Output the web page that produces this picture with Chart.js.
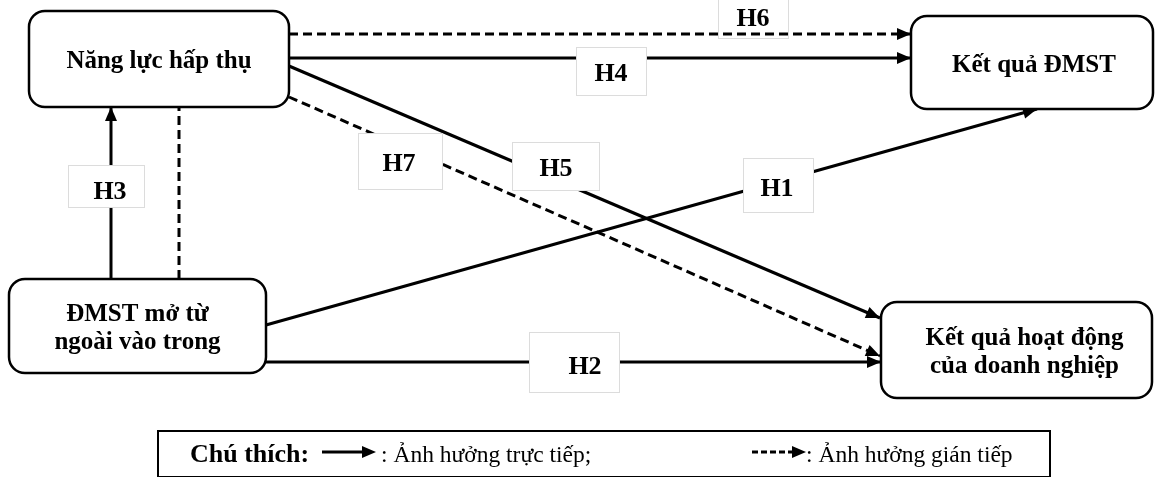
<!DOCTYPE html>
<html><head><meta charset="utf-8">
<script src="https://cdn.jsdelivr.net/npm/chart.js@4.4.1/dist/chart.umd.min.js"></script>
<style>html,body{margin:0;padding:0;background:#fff;}#wrap{width:1156px;height:477px;}</style>
</head><body><div id="wrap"><canvas id="c" width="1156" height="477"></canvas></div>
<script>
// ---------------- data ----------------
const nodeNames = ["Năng lực hấp thụ", "Kết quả ĐMST", "ĐMST mở từ|ngoài vào trong", "Kết quả hoạt động|của doanh nghiệp"];
const hypotheses = ["H1", "H2", "H3", "H4", "H5", "H6", "H7", ""];
const edgeFrom = [2, 2, 2, 0, 0, 0, 0, 2];
const edgeTo = [1, 3, 0, 1, 3, 1, 3, 0];
const effectType = ["direct", "direct", "direct", "direct", "direct", "indirect", "indirect", "indirect"];
const legendTitle = "Chú thích:";
const legendLabels = [": Ảnh hưởng trực tiếp;", ": Ảnh hưởng gián tiếp"];
const legendTypes = ["direct", "indirect"];

// ---------------- layout (diagram plane: 0..1156 x 0..477) ----------------
const layout = {
  nodeBox: [[29, 11, 289, 107], [911, 16, 1153, 109], [9, 279, 266, 373], [881, 302, 1152, 398]],
  nodeTextDx: [0, 2, 0, 8],
  edgeStart: [[266, 325], [266, 362], [111, 279], [289, 58], [289, 66], [289, 34], [289, 97], [179, 279]],
  edgeEnd: [[1037, 109], [881, 362], [111, 107], [911, 58], [880, 318], [911, 34], [880, 356], [179, 107]],
  edgeArrow: [true, true, true, true, true, true, true, false],
  labelBox: [[743, 158, 813, 212], [529, 332, 619, 392], [68, 165, 144, 207], [576, 47, 646, 95], [512, 142, 599, 190], [718, -2, 788, 38], [358, 133, 442, 189], null],
  labelText: [[777, 196], [585, 374], [110, 199], [611, 81], [556, 176], [753, 26], [399, 171], null],
  labelUnder: [false, false, false, false, false, true, false, false],
  legendBox: [158, 431, 1050, 477],
  legendTitlePos: [190, 462],
  legendArrow: [[322, 376, 452], [752, 806, 452]],
  legendTextX: [381, 806],
  legendBaseline: 462
};
const style = {
  lineWidth: 3, dash: [9, 5], head: 14, headHalf: 6,
  nodeFont: "bold 25px 'Liberation Serif', 'Times New Roman', serif",
  labelFont: "bold 26px 'Liberation Serif', 'Times New Roman', serif",
  legendBold: "bold 26px 'Liberation Serif', 'Times New Roman', serif",
  legendReg: "23.5px 'Liberation Serif', 'Times New Roman', serif"
};

const datasets = hypotheses.map((h, i) => ({
  label: h || "link",
  data: [{ x: layout.edgeStart[i][0], y: layout.edgeStart[i][1] }, { x: layout.edgeEnd[i][0], y: layout.edgeEnd[i][1] }],
  showLine: true,
  borderColor: "#000",
  backgroundColor: "#000",
  borderWidth: style.lineWidth,
  borderDash: effectType[i] === "indirect" ? style.dash : [],
  borderCapStyle: "butt",
  pointRadius: 0,
  fill: false,
  clip: false
}));

function rrect(ctx, x0, y0, x1, y1, r) {
  ctx.beginPath();
  ctx.moveTo(x0 + r, y0);
  ctx.arcTo(x1, y0, x1, y1, r);
  ctx.arcTo(x1, y1, x0, y1, r);
  ctx.arcTo(x0, y1, x0, y0, r);
  ctx.arcTo(x0, y0, x1, y0, r);
  ctx.closePath();
}
function arrowHead(ctx, x0, y0, x1, y1) {
  const a = Math.atan2(y1 - y0, x1 - x0);
  ctx.save();
  ctx.translate(x1, y1); ctx.rotate(a);
  ctx.beginPath();
  ctx.moveTo(0, 0);
  ctx.lineTo(-style.head, -style.headHalf);
  ctx.lineTo(-style.head, style.headHalf);
  ctx.closePath();
  ctx.fillStyle = "#000"; ctx.fill();
  ctx.restore();
}

const diagram = {
  id: "diagram",
  beforeDraw(chart) {
    const ctx = chart.ctx;
    ctx.save(); ctx.fillStyle = "#fff"; ctx.fillRect(0, 0, chart.width, chart.height); ctx.restore();
  },
  beforeDatasetsDraw(chart) { drawLabels(chart, true); },
  afterDatasetsDraw(chart) {
    const ctx = chart.ctx, X = v => chart.scales.x.getPixelForValue(v), Y = v => chart.scales.y.getPixelForValue(v);
    hypotheses.forEach((h, i) => {
      if (!layout.edgeArrow[i]) return;
      const s = layout.edgeStart[i], e = layout.edgeEnd[i];
      arrowHead(ctx, X(s[0]), Y(s[1]), X(e[0]), Y(e[1]));
    });
    drawLabels(chart, false);
    nodeNames.forEach((name, i) => {
      const b = layout.nodeBox[i];
      const x0 = X(b[0]), y0 = Y(b[1]), x1 = X(b[2]), y1 = Y(b[3]);
      ctx.save();
      rrect(ctx, x0, y0, x1, y1, 16);
      ctx.fillStyle = "#fff"; ctx.fill();
      ctx.lineWidth = 2.5; ctx.strokeStyle = "#000"; ctx.stroke();
      ctx.fillStyle = "#000"; ctx.font = style.nodeFont; ctx.textAlign = "center"; ctx.textBaseline = "alphabetic";
      const lines = name.split("|"), cx = (x0 + x1) / 2 + layout.nodeTextDx[i], cy = (y0 + y1) / 2;
      lines.forEach((t, k) => ctx.fillText(t, cx, cy + 9 + (k - (lines.length - 1) / 2) * 28));
      ctx.restore();
    });
    const lb = layout.legendBox;
    ctx.save();
    ctx.lineWidth = 2; ctx.strokeStyle = "#000";
    ctx.strokeRect(X(lb[0]), Y(lb[1]), X(lb[2]) - X(lb[0]), Y(lb[3]) - Y(lb[1]));
    ctx.fillStyle = "#000"; ctx.textBaseline = "alphabetic"; ctx.textAlign = "left";
    ctx.font = style.legendBold;
    ctx.fillText(legendTitle, X(layout.legendTitlePos[0]), Y(layout.legendTitlePos[1]));
    legendTypes.forEach((t, i) => {
      const a = layout.legendArrow[i];
      ctx.beginPath();
      ctx.setLineDash(t === "indirect" ? [6, 3] : []);
      ctx.lineWidth = 3;
      ctx.moveTo(X(a[0]), Y(a[2])); ctx.lineTo(X(a[1]) - 8, Y(a[2])); ctx.stroke();
      ctx.setLineDash([]);
      arrowHead(ctx, X(a[0]), Y(a[2]), X(a[1]), Y(a[2]));
      ctx.font = style.legendReg;
      ctx.fillText(legendLabels[i], X(layout.legendTextX[i]), Y(layout.legendBaseline));
    });
    ctx.restore();
  }
};
function drawLabels(chart, under) {
  const ctx = chart.ctx, X = v => chart.scales.x.getPixelForValue(v), Y = v => chart.scales.y.getPixelForValue(v);
  hypotheses.forEach((h, i) => {
    const b = layout.labelBox[i];
    if (!b || layout.labelUnder[i] !== under) return;
    ctx.save();
    ctx.fillStyle = "#fff";
    ctx.fillRect(X(b[0]), Y(b[1]), X(b[2]) - X(b[0]), Y(b[3]) - Y(b[1]));
    ctx.strokeStyle = "#dcdcdc"; ctx.lineWidth = 1;
    ctx.strokeRect(X(b[0]) + 0.5, Y(b[1]) + 0.5, X(b[2]) - X(b[0]), Y(b[3]) - Y(b[1]));
    ctx.fillStyle = "#000"; ctx.font = style.labelFont; ctx.textAlign = "center"; ctx.textBaseline = "alphabetic";
    ctx.fillText(h, X(layout.labelText[i][0]), Y(layout.labelText[i][1]));
    ctx.restore();
  });
}

new Chart(document.getElementById("c"), {
  type: "scatter",
  data: { datasets },
  options: {
    responsive: false, maintainAspectRatio: false, animation: false, devicePixelRatio: 1, events: [],
    layout: { padding: 0 },
    scales: {
      x: { type: "linear", min: 0, max: 1156, display: false },
      y: { type: "linear", min: 0, max: 477, reverse: true, display: false }
    },
    plugins: { legend: { display: false }, tooltip: { enabled: false } }
  },
  plugins: [diagram]
});
</script></body></html>
